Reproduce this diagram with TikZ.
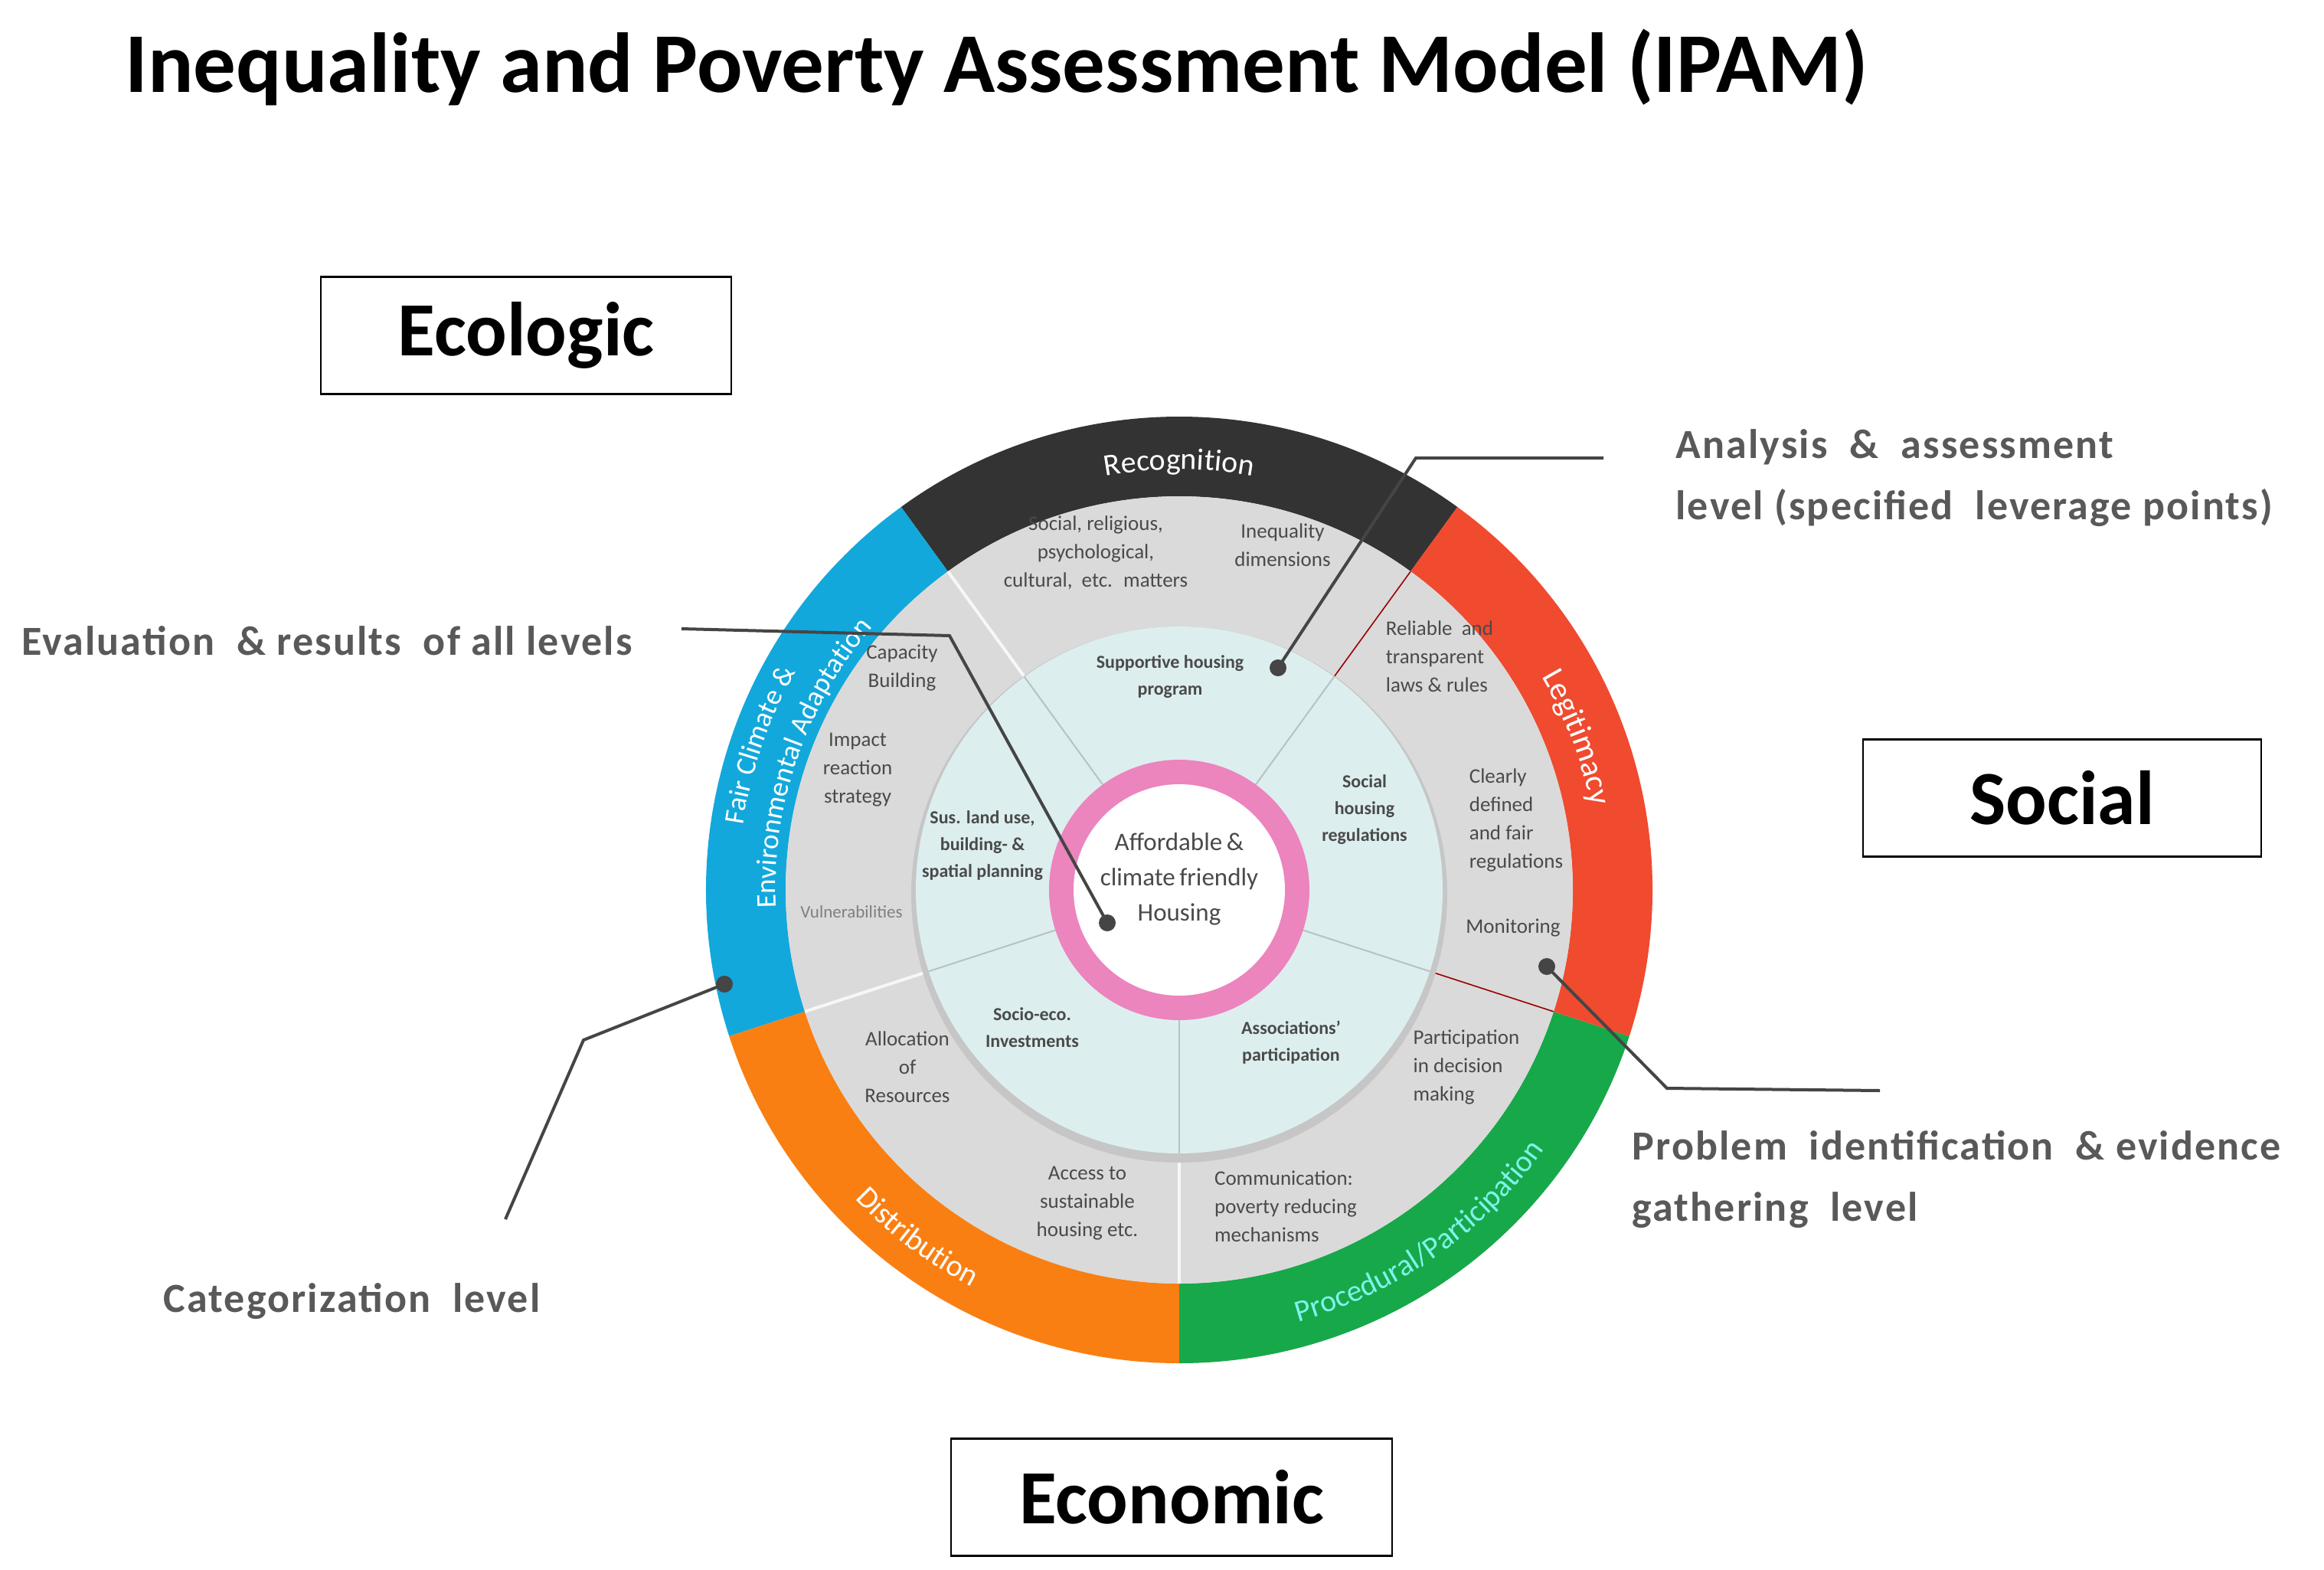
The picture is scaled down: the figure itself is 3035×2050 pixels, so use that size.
\documentclass[tikz,border=0pt]{standalone}
\usepackage{fontspec}
\setmainfont{Carlito}
\usetikzlibrary{decorations.text}
\definecolor{rblack}{HTML}{333333}
\definecolor{rred}{HTML}{F04A2F}
\definecolor{rgreen}{HTML}{17A84A}
\definecolor{rorange}{HTML}{FA7F12}
\definecolor{rblue}{HTML}{12A8DC}
\definecolor{ggray}{HTML}{DADADA}
\definecolor{lcyan}{HTML}{DDEEEE}
\definecolor{pinkc}{HTML}{EC84BE}
\definecolor{anno}{HTML}{595959}
\definecolor{txt}{HTML}{4A4A4A}
\definecolor{dotc}{HTML}{454545}
\definecolor{pcyan}{HTML}{7FF3EA}
\tikzset{
  smalltxt/.style={text=txt,align=center,font=\fontsize{27}{37}\selectfont},
  lighttxt/.style={text=txt,align=center,font=\bfseries\fontsize{24}{35}\selectfont},
  annotxt/.style={text=anno,align=left,anchor=west,font=\bfseries\fontsize{54}{80}\selectfont\addfontfeature{LetterSpace=4}},
  boxtxt/.style={draw=black,line width=2.5pt,fill=white,minimum width=#1,minimum height=153pt,font=\bfseries\fontsize{100}{100}\selectfont},
  leader/.style={draw=dotc,line width=4pt},
  leaddot/.style={circle,fill=dotc,inner sep=0pt,minimum size=22pt},
}
\newcommand{\ringseg}[4]{\fill[#1] (#2:#3) arc (#2:#4:#3) -- (#4:514) arc (#4:#2:514) -- cycle;}
\begin{document}
\begin{tikzpicture}[x=1pt,y=1pt]
\useasboundingbox (0,0) rectangle (3035,-2050);
\fill[white] (0,0) rectangle (3035,-2050);
% ---------- wheel ----------
\begin{scope}[shift={(1540,-1162)}]
  \fill[ggray] (0,0) circle (520);
  \ringseg{rblack}{54}{618}{126}
  \ringseg{rblue}{126}{618}{198}
  \ringseg{rorange}{198}{618}{270}
  \ringseg{rgreen}{270}{618}{342}
  \ringseg{rred}{-18}{618}{54}
  \fill[ggray] (0,0) circle (514);
  \foreach \a in {126,198,270} \draw[white!94!gray,line width=4pt] (\a:344) -- (\a:514);
  \foreach \a in {54,342} \draw[red!60!black,line width=1.6pt] (\a:344) -- (\a:514);
  \fill[gray!45] (0,-6) circle (350);
  \fill[lcyan] (0,0) circle (344);
  \foreach \a in {54,126,198,270,342} \draw[gray!40!lcyan,line width=2pt] (\a:170) -- (\a:344);
  \fill[pinkc] (0,0) circle (170);
  \fill[white] (0,0) circle (138);
  % ring labels
  \path[decorate,decoration={text along path,text align=center,
     text={|\color{white}\fontsize{40}{40}\selectfont|Recognition}}] (110:549) arc (110:70:549);
  \path[decorate,decoration={text along path,text align=center,
     text={|\color{white}\fontsize{42}{42}\selectfont|Legitimacy}}] (45:549) arc (45:-3:549);
  \path[decorate,decoration={text along path,text align=center,
     text={|\color{pcyan}\fontsize{40}{40}\selectfont|Procedural/Participation}}] (265:585) arc (265:345:585);
  \path[decorate,decoration={text along path,text align=center,
     text={|\color{white}\fontsize{40}{40}\selectfont|Distribution}}] (200:585) arc (200:266:585);
  \path[decorate,decoration={text along path,text align=center,
     text={|\color{white}\fontsize{37}{37}\selectfont|Fair Climate {\&}}}] (200:576) arc (200:122:576);
  \path[decorate,decoration={text along path,text align=center,
     text={|\color{white}\fontsize{37}{37}\selectfont|Environmental Adaptation}}] (205:527) arc (205:117:527);
\end{scope}
% ---------- texts ----------
\begin{scope}[yscale=-1]
  \node[anchor=west,font=\bfseries\fontsize{111}{111}\selectfont] (title) at (160,88) {Inequality and Poverty Assessment Model (IPAM)};
  \node[boxtxt=536pt] (eco) at (687,438) {Ecologic};
  \node[boxtxt=520pt] (soc) at (2693,1042) {Social};
  \node[boxtxt=576pt] (econ) at (1530,1955) {Economic};

  \node[smalltxt] (s1) at (1431,722) {Social, religious,\\psychological,\\cultural, \ etc. \ matters};
  \node[smalltxt] (s2) at (1675,712) {Inequality\\dimensions};
  \node[smalltxt,align=left] (s3) at (1880,857) {Reliable \ and\\transparent\\laws \& rules};
  \node[smalltxt,align=left] (s4) at (1980,1071) {Clearly\\defined\\and fair\\regulations};
  \node[smalltxt] (s5) at (1976,1212) {Monitoring};
  \node[smalltxt,align=left] (s6) at (1915,1393) {Participation\\in decision\\making};
  \node[smalltxt,align=left] (s7) at (1679,1575) {Communication:\\poverty reducing\\mechanisms};
  \node[smalltxt] (s8) at (1420,1571) {Access to\\sustainable\\housing etc.};
  \node[smalltxt] (s9) at (1185,1393) {Allocation\\of\\Resources};
  \node[smalltxt,text=txt!70,font=\fontsize{23}{30}\selectfont] (s10) at (1112,1191) {Vulnerabilities};
  \node[smalltxt] (s11) at (1120,1005) {Impact\\reaction\\strategy};
  \node[smalltxt] (s12) at (1178,872) {Capacity\\Building};

  \node[lighttxt] (l1) at (1528,884) {Supportive housing\\program};
  \node[lighttxt] (l2) at (1782,1057) {Social\\housing\\regulations};
  \node[lighttxt] (l3) at (1686,1361) {Associations'\\participation};
  \node[lighttxt] (l4) at (1348,1342) {Socio-eco.\\Investments};
  \node[lighttxt] (l5) at (1283,1104) {Sus. land use,\\building- \&\\spatial planning};
  \node[text=txt,align=center,font=\fontsize{33}{46}\selectfont] (ctr) at (1540,1148) {Affordable\,\&\\climate\,friendly\\Housing};

  \node[annotxt] (a1) at (2185,624) {Analysis \ \& \ assessment\\level (specified \ leverage points)};
  \node[annotxt,anchor=base west] (a2) at (25,855) {Evaluation \ \& results \ of all levels};
  \node[annotxt] (a3) at (2128,1540) {Problem \ identification \ \& evidence\\gathering \ level};
  \node[annotxt,anchor=base west] (a4) at (210,1713) {Categorization \ level};

  % leader lines
  \node[leaddot] (d1) at (1669,872) {};
  \node[leaddot] (d2) at (1446,1205) {};
  \node[leaddot] (d3) at (2020,1262) {};
  \node[leaddot] (d4) at (946,1285) {};
  \coordinate (e1) at (2094,598);
  \coordinate (e1b) at (1849,598);
  \coordinate (e2) at (890,821);
  \coordinate (e2b) at (1240,830);
  \coordinate (e3) at (2455,1424);
  \coordinate (e3b) at (2177,1421);
  \coordinate (e4) at (660,1592);
  \coordinate (e4b) at (762,1358);
  \draw[leader] (e1) -- (e1b) -- (d1.center);
  \draw[leader] (e2) -- (e2b) -- (d2.center);
  \draw[leader] (e3) -- (e3b) -- (d3.center);
  \draw[leader] (e4) -- (e4b) -- (d4.center);
\end{scope}
\end{tikzpicture}
\end{document}
